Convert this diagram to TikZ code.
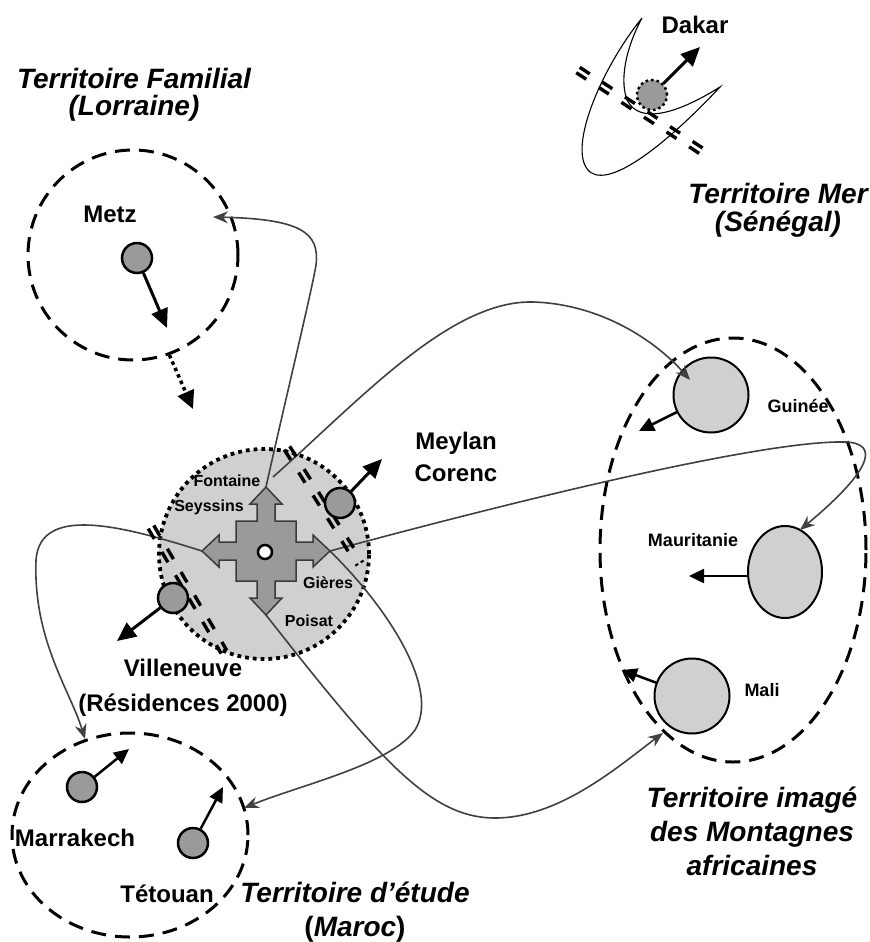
\documentclass[tikz,border=0pt]{standalone}
\usepackage{fontspec}
\setmainfont{Liberation Sans}
\usetikzlibrary{arrows.meta,shapes.geometric,calc}
\definecolor{cgrey}{HTML}{9A9A9A}
\definecolor{clight}{HTML}{D0D0D0}
\definecolor{cline}{HTML}{404040}
\definecolor{cedge}{HTML}{3A3A3A}
\newcommand\dbldash[2]{%
  \draw[dd] ($(#1)!3.2bp!90:(#2)$) -- ($(#2)!3.2bp!-90:(#1)$);
  \draw[dd] ($(#1)!3.2bp!-90:(#2)$) -- ($(#2)!3.2bp!90:(#1)$);}
\begin{document}
\begin{tikzpicture}[x=1bp,y=-1bp,
  ttl/.style={font=\fontsize{28bp}{27bp}\selectfont\bfseries\itshape, align=center, inner sep=0pt},
  lbl/.style={font=\fontsize{24bp}{33bp}\selectfont\bfseries, align=center, inner sep=0pt},
  slbl/.style={font=\fontsize{16bp}{18bp}\selectfont\bfseries, inner sep=0pt},
  albl/.style={font=\fontsize{18bp}{20bp}\selectfont\bfseries, inner sep=0pt},
  terr/.style={draw, line width=3bp, dash pattern=on 15bp off 9bp},
  city/.style={circle, draw, line width=2.5bp, fill=cgrey, minimum size=30bp, inner sep=0pt},
  country/.style={draw, line width=2bp, fill=clight, inner sep=0pt},
  mv/.style={line width=3bp, -{Triangle[length=19bp,width=17bp]}},
  mvs/.style={line width=2.5bp, -{Triangle[length=15bp,width=14bp]}},
  link/.style={draw=cline, line width=1.6bp, -{Stealth[length=15bp,width=12bp,inset=5bp]}},
  dd/.style={line width=3.4bp, dash pattern=on 12bp off 15bp},
]
\useasboundingbox (0,0) rectangle (870,942);

% ---------- territories ----------
\node[circle, terr, minimum size=210bp, inner sep=0pt] (lor) at (133,255) {};
\node[ellipse, terr, minimum width=236bp, minimum height=204bp, inner sep=0pt] (maroc) at (130,835) {};

% ---------- Africa ----------
\node[country, circle, minimum size=75bp] (gui) at (711,395) {};
\node[country, ellipse, minimum width=74bp, minimum height=92bp] (mau) at (785,572) {};
\node[country, circle, minimum size=75bp] (mal) at (692,696) {};
\node[ellipse, terr, minimum width=266bp, minimum height=424bp, inner sep=0pt] (afr) at (733,550) {};

% ---------- Senegal horn ----------
\draw[line width=1.1bp] (642,18) .. controls (600,70) and (566,152) .. (590,172)
      .. controls (614,190) and (680,130) .. (720,87)
      .. controls (680,112) and (640,126) .. (627,100)
      .. controls (618,75) and (630,40) .. (642,18);
\coordinate (dk1) at (578,70);
\coordinate (dk2) at (712,158);
\dbldash{dk1}{dk2}
\node[circle, draw, fill=cgrey, line width=2.5bp, dash pattern=on 2.5bp off 3bp, minimum size=30bp, inner sep=0pt] (dak) at (652,95) {};
\coordinate (dakT) at (700,47);
\draw[mv] (dak) -- (dakT);

% ---------- Grenoble ----------
\node[circle, fill=clight, draw, line width=3.8bp, dash pattern=on 3.8bp off 4bp, minimum size=210bp, inner sep=0pt] (gre) at (264,554) {};
\begin{scope}[shift={(266,551)}]
\draw[fill=cgrey, draw=cedge, line width=1.5bp]
  (0,-64) -- (16,-47) -- (9,-47) -- (9,-30) -- (30,-30) -- (30,-9) -- (47,-9) -- (47,-16)
  -- (64,0) -- (47,16) -- (47,9) -- (30,9) -- (30,30) -- (9,30) -- (9,47) -- (16,47)
  -- (0,64) -- (-16,47) -- (-9,47) -- (-9,30) -- (-30,30) -- (-30,9) -- (-47,9) -- (-47,16)
  -- (-64,0) -- (-47,-16) -- (-47,-9) -- (-30,-9) -- (-30,-30) -- (-9,-30) -- (-9,-47) -- (-16,-47) -- cycle;
\end{scope}
\node[circle, draw, fill=white, line width=2.5bp, minimum size=14bp, inner sep=0pt] (ctr) at (265,552) {};
\coordinate (ctop) at (266,487);
\coordinate (cbot) at (266,615);
\coordinate (cleft) at (202,551);
\coordinate (cright) at (330,551);
\coordinate (cfon) at (273,477);

\node[slbl] (fon) at (227,481) {Fontaine};
\node[slbl] (sey) at (209,507) {Seyssins};
\node[slbl] (gie) at (328,583) {Gières};
\node[slbl] (poi) at (309,621) {Poisat};

% ---------- connectors ----------
\coordinate (lorIn) at (213,217);
\coordinate (guiIn) at (690,380);
\coordinate (mauIn) at (800,530);
\coordinate (marIn) at (85,739);
\coordinate (malIn) at (663,733);
\coordinate (marR) at (244,808);
\draw[link] (ctop) .. controls (283,410) and (312,290) .. (316,265)
      .. controls (320,232) and (300,219) .. (lorIn);
\draw[link] (cfon) .. controls (360,400) and (450,300) .. (533,302)
      .. controls (600,304) and (655,340) .. (guiIn);
\draw[link] (cright) .. controls (500,505) and (760,440) .. (845,442)
      .. controls (880,443) and (872,470) .. (mauIn);
\draw[link] (cleft) .. controls (120,525) and (40,505) .. (36,560)
      .. controls (33,640) and (70,690) .. (marIn);
\draw[link] (cbot) .. controls (380,760) and (430,818) .. (495,818)
      .. controls (560,818) and (620,765) .. (malIn);
\draw[link] (cright) .. controls (390,610) and (440,690) .. (415,730)
      .. controls (390,765) and (300,785) .. (marR);

% ---------- borders of Grenoble ----------
\coordinate (my1) at (287,448);
\coordinate (my2) at (360,564);
\dbldash{my1}{my2}
\coordinate (vl1) at (151,527);
\coordinate (vl2) at (224,652);
\dbldash{vl1}{vl2}

% ---------- cities ----------
\node[city] (metz) at (137,258) {};
\coordinate (metzT) at (167,328);
\draw[mv] (metz) -- (metzT);
\coordinate (lorT) at (193,409);
\draw[line width=3.5bp, dash pattern=on 3.5bp off 3.5bp, -{Triangle[length=18bp,width=17bp]}] (lor.-70) -- (lorT);

\node[city] (mey) at (340,503) {};
\coordinate (meyT) at (382,459);
\draw[mv] (mey) -- (meyT);
\node[city] (vil) at (173,598) {};
\coordinate (vilT) at (117,641);
\draw[mv] (vil) -- (vilT);

\node[city] (mar) at (82,787) {};
\coordinate (marT) at (129,749);
\draw[mvs] (mar) -- (marT);
\node[city] (tet) at (193,843) {};
\coordinate (tetT) at (223,787);
\draw[mvs] (tet) -- (tetT);

\coordinate (guiT) at (639,431);
\draw[mvs] (gui) -- (guiT);
\coordinate (mauT) at (689,576);
\draw[mvs] (mau.west |- mauT) -- (mauT);
\coordinate (malT) at (622,670);
\draw[mvs] (mal) -- (malT);

% ---------- labels ----------
\node[ttl] (tfam) at (134,95) {Territoire Familial\\(Lorraine)};
\node[ttl, font=\fontsize{28bp}{28bp}\selectfont\bfseries\itshape] (tmer) at (778,210) {Territoire Mer\\(Sénégal)};
\node[ttl, font=\fontsize{28bp}{34bp}\selectfont\bfseries\itshape] (tafr) at (752,831) {Territoire imagé\\des Montagnes\\africaines};
\node[ttl, font=\fontsize{28bp}{34bp}\selectfont\bfseries\itshape] (tmar) at (355,912) {Territoire d’étude\\{\upshape(}Maroc{\upshape)}};

\node[lbl] (lmetz) at (110,214) {Metz};
\node[lbl] (ldak) at (695,25) {Dakar};
\node[lbl, font=\fontsize{24bp}{32bp}\selectfont\bfseries] (lmey) at (456,457) {Meylan\\Corenc};
\node[lbl, font=\fontsize{24bp}{35bp}\selectfont\bfseries] (lvil) at (183,688) {Villeneuve\\(Résidences 2000)};
\node[lbl] (lmar) at (75,838) {Marrakech};
\node[lbl] (ltet) at (167,894) {Tétouan};

\node[albl] (lgui) at (798,406) {Guinée};
\node[albl] (lmau) at (693,540) {Mauritanie};
\node[albl] (lmal) at (762,690) {Mali};
\end{tikzpicture}
\end{document}
